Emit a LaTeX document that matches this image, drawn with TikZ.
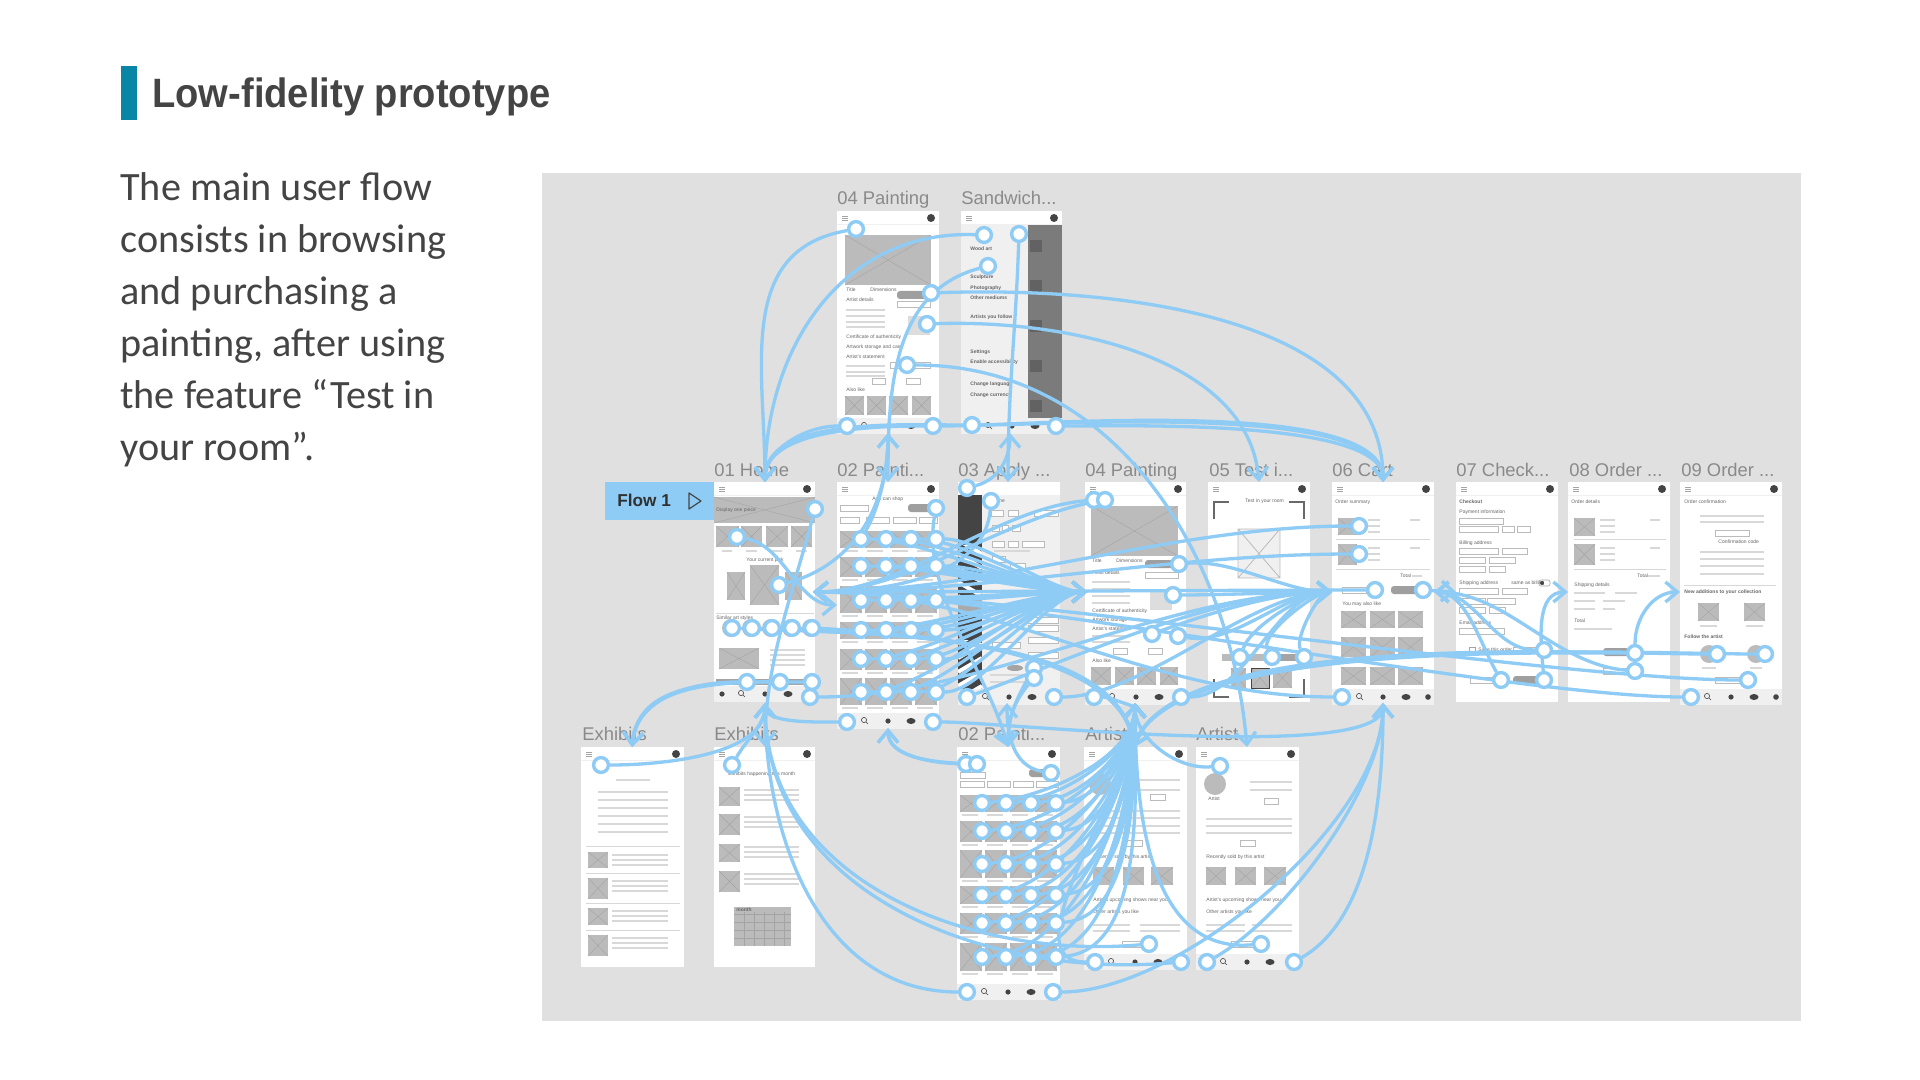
\documentclass[tikz,border=0pt]{standalone}
\usepackage{fontspec}
\setmainfont{Liberation Sans}
\newfontfamily\bodyfont{Carlito}
\newfontfamily\titlefont[FakeStretch=0.93]{Liberation Sans}
\usetikzlibrary{arrows.meta}
\pgfdeclarelayer{base}\pgfdeclarelayer{links}\pgfsetlayers{base,links,main}
\definecolor{linkc}{HTML}{8ECBF5}
\definecolor{panelc}{HTML}{E0E0E0}
\definecolor{tealc}{HTML}{0986A6}
\definecolor{inkc}{HTML}{444444}
\definecolor{tinyc}{HTML}{666666}
\definecolor{labelc}{HTML}{8A8A8A}
\definecolor{imgc}{HTML}{BBBBBB}
\definecolor{imgxc}{HTML}{A4A4A4}
\definecolor{wlinec}{HTML}{D8D8D8}
\definecolor{navc}{HTML}{F0F0F0}
\definecolor{darkc}{HTML}{444444}
\tikzset{
 hot/.style={circle,draw=linkc,fill=white,line width=1.7pt,minimum size=7.4pt,inner sep=0pt},
 link/.style={draw=linkc,line width=1.65pt,-{Straight Barb[length=6pt,width=10pt]}},
 flab/.style={anchor=base west,inner sep=0pt,text=labelc,font=\fontsize{9.2}{11}\selectfont},
 tinyt/.style={anchor=west,inner sep=0pt,text=tinyc,font=\fontsize{2.5}{3}\selectfont},
 wline/.style={draw=wlinec,line width=.55pt},
 wbox/.style={draw=imgc,line width=.35pt,fill=white},
 wpill/.style={fill=imgc!85!black},
}
\newcount\wtc
\newcommand\wimg[4]{\fill[imgc] (#1,#2) rectangle (#3,#4);\draw[imgxc,line width=.2pt] (#1,#2) -- (#3,#4) (#1,#4) -- (#3,#2);}
\newcommand\wl[3]{\draw[wline] (#1,#3) -- (#2,#3);}
\newcommand\wbx[3]{\draw[wbox] (#1,#3-3) rectangle (#2,#3+3);}
\newcommand\wgp[3]{\fill[wpill,rounded corners=1.5pt] (#1,#3-4) rectangle (#2,#3+4);}
\newcommand\wt[3]{\global\advance\wtc by 1 \node[tinyt] (wt\the\wtc) at (#1,#2) {#3};}
\newcommand\hot[3]{\node[hot] (#1) at (#2,#3) {};}
\newcommand\wframe[5]{%
 \fill[#5] (#1,#3) rectangle (#2,#4);
 \fill[white] (#1,#3) rectangle (#2,#3+13);
 \draw[navc,line width=.5pt] (#1,#3+13.5) -- (#2,#3+13.5);
 \draw[imgxc,line width=.25pt] (#1+5,#3+5) -- (#1+11,#3+5) (#1+5,#3+7) -- (#1+11,#3+7) (#1+5,#3+9) -- (#1+11,#3+9);
 \fill[darkc] (#2-8,#3+7) circle (4);}
\newcommand\wnav[3]{% x1, y centre, band x2
 \fill[navc] (#1,#2-8) rectangle (#3,#2+8);
 \fill[darkc] (#1+8,#2) circle (2.6);
 \draw[darkc,line width=.3pt] (#1+27,#2-1) circle (2.6) (#1+29,#2+1) -- (#1+31,#2+3);
 \fill[darkc] (#1+51,#2) circle (2.6);
 \fill[darkc] (#1+74,#2) ellipse (4.5 and 3);
 \fill[darkc] (#1+96,#2) circle (2.8);}
\newcommand\wrows[6]{% column x list fixed via #1.. y pairs
 \wimg{#1}{#5}{#1+22}{#6}\wimg{#2}{#5}{#2+22}{#6}\wimg{#3}{#5}{#3+22}{#6}\wimg{#4}{#5}{#4+22}{#6}
 \wl{#1+2}{#1+18}{#6+3}\wl{#2+2}{#2+18}{#6+3}\wl{#3+2}{#3+18}{#6+3}\wl{#4+2}{#4+18}{#6+3}}
\begin{document}
\begin{tikzpicture}[x=.5pt,y=-.5pt]
\useasboundingbox (0,0) rectangle (1920,1080);
\begin{pgfonlayer}{base}
\fill[white] (0,0) rectangle (1920,1080);
\fill[tealc] (121,66) rectangle (137,120);
\node[anchor=base west,inner sep=0pt,text=inkc,font=\titlefont\bfseries\fontsize{20.5}{24}\selectfont] (title) at (152,108) {Low-fidelity prototype};
\node[anchor=north west,inner sep=0pt,align=left,text=inkc,font=\bodyfont\fontsize{20.1}{26}\selectfont] (body) at (120,172) {The main user flow\\consists in browsing\\and purchasing a\\painting, after using\\the feature “Test in\\your room”.};
\fill[panelc] (542,173) rectangle (1801,1021);
% labels
\node[flab] (l1) at (837,205) {04 Painting};
\node[flab] (l2) at (961,205) {Sandwich...};
\node[flab] (l3) at (714,476) {01 Home};
\node[flab] (l4) at (837,476) {02 Painti...};
\node[flab] (l5) at (958,476) {03 Apply ...};
\node[flab] (l6) at (1085,476) {04 Painting};
\node[flab] (l7) at (1209,476) {05 Test i...};
\node[flab] (l8) at (1332,476) {06 Cart};
\node[flab] (l9) at (1456,476) {07 Check...};
\node[flab] (l10) at (1569,476) {08 Order ...};
\node[flab] (l11) at (1681,476) {09 Order ...};
\node[flab] (l12) at (582,740) {Exhibits};
\node[flab] (l13) at (714,740) {Exhibits};
\node[flab] (l14) at (958,740) {02 Painti...};
\node[flab] (l15) at (1085,740) {Artist};
\node[flab] (l16) at (1196,740) {Artist};
% flow box
\fill[linkc] (605,482) rectangle (714,520);
\node[anchor=base west,inner sep=0pt,text=inkc!70!black,font=\bfseries\fontsize{8.6}{10}\selectfont] (flow) at (617,506) {Flow 1};
\draw[inkc,line width=.6pt,line join=round] (689,493) -- (701,501) -- (689,509) -- cycle;
% === top painting
\wframe{837}{939}{211}{433}{white}
\wimg{845}{235}{931}{285}
\wgp{897}{930}{295}\wbx{897}{930}{304}
\wt{846}{290}{Title}\wt{870}{290}{Dimensions}\wt{846}{300}{Artist details}
\foreach \yy in {310,316,322,327}{\wl{846}{885}{\yy}}
\fill[imgc!50!white] (908,316) rectangle (930,335);
\wt{846}{337}{Certificate of authenticity}\wt{846}{347}{Artwork storage and care}\wt{846}{357}{Artist's statement}
\wl{846}{885}{366}\wl{846}{885}{372}\wl{846}{885}{376}
\wbx{872}{885}{381}\wbx{906}{920}{381}\wbx{890}{930}{365}
\wt{846}{390}{Also like}
\wimg{845}{396}{864}{415}\wimg{867}{396}{886}{415}\wimg{889}{396}{908}{415}\wimg{912}{396}{931}{415}
\wnav{837}{426}{939}
% === sandwich
\wframe{961}{1062}{211}{433}{navc}
\fill[imgxc!75!black] (1028,225) rectangle (1062,420);
\foreach \yy in {240,280,320,360,400}{\fill[imgxc!60!black] (1030,\yy) rectangle (1042,\yy+12);}
\foreach \yy/\tt in {249/Wood art,277/Sculpture,288/Photography,298/Other mediums,317/Artists you follow,352/Settings,362/Enable accessibility,384/Change language,395/Change currency}{\wt{970}{\yy}{\bfseries\tt}}
\wnav{961}{426}{1062}
% === home
\wframe{714}{815}{482}{702}{white}
\wimg{714}{497}{815}{523}
\wt{716}{510}{Display one piece}
\wimg{716}{526}{739}{547}\wimg{741}{526}{762}{547}\wimg{766}{526}{788}{547}\wimg{791}{526}{812}{547}
\wl{722}{732}{551}\wl{746}{757}{551}\wl{771}{782}{551}\wl{796}{807}{551}
\wt{746}{560}{Your current pick}
\wimg{750}{565}{779}{605}\wimg{727}{572}{745}{600}\wimg{785}{572}{802}{600}
\draw[wline,line width=.3pt] (716,613) -- (814,613);
\wt{716}{618}{Similar art styles}
\foreach \xx in {732,752,772,792,812}{\fill[imgc] (\xx-1,628) circle (9);}
\wimg{719}{648}{759}{669}
\foreach \yy in {650,655,660,665}{\wl{770}{805}{\yy}}
\fill[imgxc] (716,679) rectangle (812,685);
\wnav{714}{694}{815}
% === 02 painti
\wframe{837}{939}{482}{728}{white}
\wbx{840}{868}{508}\wgp{908}{936}{508}\wt{872}{499}{Art I can shop}
\wbx{840}{859}{520}\wbx{866}{889}{520}\wbx{893}{916}{520}\wbx{919}{937}{520}
\foreach \ya/\yb in {531/548,557/577,586/613,622/639,649/670,678/705}{\wrows{840}{865}{890}{915}{\ya}{\yb}}
\wnav{837}{721}{939}
% === 03 apply
\wframe{958}{1060}{482}{702}{navc}
\fill[white] (958,482) rectangle (1060,495);
\fill[darkc] (958,495) rectangle (982,690);
\begin{scope}\clip (958,545) rectangle (982,600);
\foreach \k in {0,14,28,42,56}{\draw[white,line width=2pt] (958,540+\k) -- (982,554+\k);}
\end{scope}
\begin{scope}\clip (958,640) rectangle (982,690);
\foreach \k in {0,14,28,42,56}{\draw[white,line width=2pt] (982,630+\k) -- (958,644+\k);}
\end{scope}
\fill[white,opacity=.55] (958,600) rectangle (982,612);
\wt{990}{501}{Frame}
\wbx{991}{1003}{513}\wbx{1008}{1018}{513}\wbx{1034}{1058}{513}
\wbx{992}{999}{528}\wbx{1002}{1008}{528}\wbx{1012}{1020}{528}
\wbx{992}{1004}{544}\wbx{1008}{1018}{544}\wbx{1022}{1044}{544}
\wl{994}{1030}{551}\wbx{992}{1005}{559}\wbx{1010}{1025}{566}
\wbx{1028}{1058}{620}\wbx{1028}{1058}{628}\wbx{1028}{1058}{640}\wbx{992}{1020}{645}\wbx{1028}{1058}{655}
\fill[imgxc] (1015,668) ellipse (8 and 3);
\wl{995}{1030}{605}\wl{995}{1030}{612}\wl{990}{1030}{675}\wl{990}{1025}{682}
\wnav{958}{697}{1060}
% === 04 painting
\wframe{1085}{1186}{482}{702}{white}
\wimg{1091}{506}{1178}{556}
\wt{1092}{561}{Title}\wt{1116}{561}{Dimensions}\wt{1092}{573}{Artist details}
\wgp{1145}{1178}{564}\wbx{1145}{1178}{575}
\foreach \yy in {582,589,596,603}{\wl{1092}{1130}{\yy}}
\fill[imgc!50!white] (1150,590) rectangle (1172,610);
\wt{1092}{611}{Certificate of authenticity}\wt{1092}{620}{Artwork storage}\wt{1092}{629}{Artist's statement}
\wl{1092}{1130}{636}\wl{1092}{1130}{642}\wbx{1113}{1127}{651}\wbx{1148}{1162}{651}
\fill[imgc] (1150,634) circle (7);
\wt{1092}{661}{Also like}
\wimg{1091}{667}{1111}{685}\wimg{1115}{667}{1134}{685}\wimg{1137}{667}{1156}{685}\wimg{1160}{667}{1178}{685}
\wnav{1085}{697}{1186}
% === 05 test
\wframe{1208}{1310}{482}{702}{white}
\fill[white] (1208,495) rectangle (1310,702);
\wt{1245}{501}{Test in your room}
\draw[darkc!80,line width=.8pt] (1214,519) -- (1214,502) -- (1229,502) (1289,502) -- (1304,502) -- (1304,519)
 (1214,679) -- (1214,697) -- (1229,697) (1289,697) -- (1304,697) -- (1304,679);
\fill[navc] (1238,529) rectangle (1280,578);\draw[imgc,line width=.4pt] (1238,529) rectangle (1280,578) (1238,529) -- (1280,578) (1238,578) -- (1280,529);
\fill[imgc] (1222,654) rectangle (1265,661);\fill[imgxc] (1280,654) rectangle (1300,661);
\wimg{1231}{668}{1246}{688}\wimg{1251}{668}{1269}{688}\draw[darkc,line width=.5pt] (1251,668) rectangle (1269,688);\wimg{1273}{668}{1292}{688}
% === 06 cart
\wframe{1332}{1434}{482}{702}{white}
\wt{1335}{502}{Order summary}
\wimg{1338}{518}{1357}{535}\wimg{1338}{544}{1357}{565}
\foreach \yy in {520,526,532,548,554,560}{\wl{1368}{1380}{\yy}}
\wl{1410}{1420}{520}\wl{1410}{1420}{548}
\draw[wline,line width=.3pt] (1336,539) -- (1430,539) (1336,569) -- (1430,569);
\wt{1400}{576}{Total}\wl{1412}{1422}{576}
\wbx{1342}{1366}{590}\wgp{1391}{1424}{590}
\wt{1342}{604}{You may also like}
\foreach \ya/\yb in {611/628,637/657,667/685}{\wimg{1341}{\ya}{1366}{\yb}\wimg{1370}{\ya}{1395}{\yb}\wimg{1398}{\ya}{1423}{\yb}}
\wnav{1332}{697}{1434}
% === 07 checkout
\wframe{1456}{1558}{482}{702}{white}
\wt{1459}{502}{\bfseries Checkout}\wt{1459}{512}{Payment information}
\wbx{1459}{1503}{521}\wbx{1459}{1498}{529}\wbx{1502}{1514}{529}\wbx{1517}{1530}{529}
\wt{1459}{543}{Billing address}
\wbx{1459}{1498}{551}\wbx{1502}{1527}{551}\wbx{1459}{1485}{560}\wbx{1489}{1515}{560}\wbx{1459}{1485}{569}\wbx{1489}{1505}{569}
\wt{1459}{583}{Shipping address}\wt{1511}{583}{same as billing}
\draw[imgxc,line width=.3pt,rounded corners=1pt] (1539,580) rectangle (1550,586);\fill[darkc] (1542,583) circle (2);
\wbx{1459}{1498}{591}\wbx{1502}{1527}{591}\wbx{1459}{1485}{601}\wbx{1487}{1515}{601}\wbx{1459}{1485}{610}\wbx{1489}{1505}{610}
\wt{1459}{623}{Email address}\wbx{1459}{1504}{631}
\draw[imgxc,line width=.3pt] (1469,647) rectangle (1475,653);\wt{1478}{650}{Save this order}
\wbx{1513}{1539}{650}\wbx{1470}{1495}{680}\wgp{1513}{1539}{680}
% === 08 order
\wframe{1568}{1670}{482}{702}{white}
\wt{1571}{502}{Order details}
\wimg{1574}{518}{1595}{536}\wimg{1574}{544}{1595}{565}
\foreach \yy in {520,526,532,548,554,560}{\wl{1600}{1615}{\yy}}
\wl{1650}{1660}{520}\wl{1650}{1660}{548}
\draw[wline,line width=.3pt] (1574,539) -- (1666,539) (1574,569) -- (1666,569);
\wt{1637}{576}{Total}\wl{1648}{1660}{576}
\wt{1574}{585}{Shipping details}
\wl{1574}{1605}{593}\wl{1615}{1637}{593}\wl{1574}{1595}{601}\wl{1603}{1625}{601}\wl{1574}{1595}{609}\wl{1603}{1615}{609}
\wt{1574}{621}{Total}\wl{1574}{1612}{629}
\wgp{1603}{1629}{652}\wbx{1603}{1629}{671}
% === 09 order
\wframe{1680}{1782}{482}{702}{white}
\wt{1684}{502}{Order confirmation}
\wl{1700}{1764}{516}\wl{1700}{1764}{522}
\wbx{1715}{1749}{533}\wt{1718}{542}{Confirmation code}
\foreach \yy in {552,559,566,574}{\wl{1700}{1764}{\yy}}
\draw[wline,line width=.3pt] (1684,585) -- (1776,585);
\wt{1684}{592}{\bfseries New additions to your collection}
\wimg{1698}{603}{1719}{621}\wimg{1744}{603}{1765}{621}
\wl{1700}{1717}{626}\wl{1746}{1763}{626}
\wt{1684}{637}{\bfseries Follow the artist}
\fill[imgc] (1709,654) circle (9);\fill[imgc] (1756,654) circle (9);
\wl{1702}{1716}{668}\wl{1750}{1762}{668}
\wbx{1715}{1742}{680}
\wnav{1680}{697}{1782}
% === exhibits 1
\wframe{581}{684}{747}{967}{white}
\wl{616}{650}{780}
\foreach \yy in {792,800,808,816,824,832}{\wl{598}{668}{\yy}}
\draw[wline,line width=.3pt] (586,846) -- (680,846) (586,873) -- (680,873) (586,903) -- (680,903) (586,930) -- (680,930);
\foreach \ya/\yb in {852/868,878/899,908/925,935/956}{\wimg{588}{\ya}{608}{\yb}\wl{612}{668}{\ya+3}\wl{612}{668}{\ya+8}\wl{612}{668}{\ya+13}}
% === exhibits 2
\wframe{714}{815}{747}{967}{white}
\wt{728}{774}{Exhibits happening this month}
\foreach \ya/\yb in {787/806,814/835,844/862,871/892}{\wimg{719}{\ya}{740}{\yb}\wl{744}{799}{\ya+3}\wl{744}{799}{\ya+8}\wl{744}{799}{\ya+13}}
\fill[imgc] (734,907) rectangle (791,946);
\foreach \xx in {744,754,764,774,784}{\draw[imgxc,line width=.2pt] (\xx,912) -- (\xx,946);}
\foreach \yy in {914,922,930,938}{\draw[imgxc,line width=.2pt] (734,\yy) -- (791,\yy);}
\wt{736}{910}{\bfseries month}
% === 02 bottom
\wframe{957}{1060}{747}{997}{white}
\wbx{960}{985}{775}\wgp{1029}{1056}{773}
\wbx{960}{984}{784}\wbx{987}{1010}{784}\wbx{1013}{1033}{784}\wbx{1036}{1058}{784}
\foreach \ya/\yb in {795/812,821/842,850/878,886/904,913/934,943/971}{\wrows{960}{985}{1010}{1035}{\ya}{\yb}}
\wnav{957}{992}{1060}
% === artist 1
\wframe{1084}{1187}{747}{967}{white}
\fill[imgc] (1100,784) circle (11);
\wbx{1150}{1165}{797}\wl{1138}{1180}{780}\wl{1138}{1180}{790}
\foreach \yy in {811,818,826,833}{\wl{1095}{1180}{\yy}}
\wbx{1126}{1142}{843}\wt{1093}{857}{Recently sold by this artist}
\wimg{1093}{867}{1114}{885}\wimg{1123}{867}{1144}{885}\wimg{1151}{867}{1173}{885}
\wt{1093}{900}{Artist's upcoming shows near you}\wt{1093}{912}{Other artists you like}
\wl{1093}{1130}{925}\wl{1140}{1180}{925}\wl{1093}{1130}{931}\wl{1140}{1180}{931}
\wbx{1122}{1145}{944}
\wnav{1084}{962}{1187}
% === artist 2
\wframe{1196}{1299}{747}{967}{white}
\fill[imgc] (1215,784) circle (11);
\wt{1208}{799}{Artist}\wbx{1264}{1278}{801}\wl{1250}{1292}{782}\wl{1250}{1292}{790}
\foreach \yy in {819,826,833}{\wl{1206}{1292}{\yy}}
\wbx{1240}{1255}{843}\wt{1206}{857}{Recently sold by this artist}
\wimg{1206}{867}{1226}{885}\wimg{1235}{867}{1256}{885}\wimg{1264}{867}{1286}{885}
\wt{1206}{900}{Artist's upcoming shows near you}\wt{1206}{912}{Other artists you like}
\wl{1206}{1245}{925}\wl{1252}{1292}{925}\wl{1206}{1245}{931}\wl{1252}{1292}{931}
\wbx{1231}{1254}{944}
\wnav{1196}{962}{1299}
\end{pgfonlayer}
% targets
\coordinate (tHomeT) at (765,482);
\coordinate (tHomeB) at (765,703);
\coordinate (tHomeR) at (813,592);
\coordinate (tPaiL) at (837,605);
\coordinate (tPaiT) at (888,482);
\coordinate (tPaiB) at (888,728);
\coordinate (tTopB) at (888,433);
\coordinate (tSandB) at (1010,433);
\coordinate (tAppT) at (1008,482);
\coordinate (tAppB) at (1007,703);
\coordinate (tFourL) at (1087,592);
\coordinate (tFourB) at (1135,703);
\coordinate (tTestT) at (1259,482);
\coordinate (tCartT) at (1383,482);
\coordinate (tCartL) at (1332,592);
\coordinate (tCartR) at (1434,592);
\coordinate (tCartB) at (1383,703);
\coordinate (tChkL) at (1456,592);
\coordinate (tOrdL) at (1568,592);
\coordinate (tConL) at (1680,592);
\coordinate (tExaT) at (632,747);
\coordinate (tExbT) at (765,747);
\coordinate (tBotT) at (1008,747);
\coordinate (tArtT) at (1134,747);
\coordinate (tArbT) at (1247,747);
% hotspots
\hot{a1}{856}{229}\hot{a2}{931}{293}\hot{a3}{927}{324}\hot{a4}{907}{365}\hot{a5}{847}{426}\hot{a6}{933}{426}
\hot{s1}{984}{235}\hot{s2}{1019}{234}\hot{s3}{988}{266}\hot{s4}{972}{425}\hot{s5}{1056}{426}
\hot{h1}{815}{509}\hot{h2}{737}{537}\hot{h3}{779}{585}
\hot{r1}{732}{628}\hot{r2}{752}{628}\hot{r3}{772}{628}\hot{r4}{792}{628}\hot{r5}{812}{628}
\hot{h4}{747}{682}\hot{h5}{780}{682}\hot{h6}{812}{682}\hot{h7}{810}{697}
\hot{p1}{936}{508}\hot{p2}{847}{722}\hot{p3}{933}{722}
\foreach \c/\xx in {1/861,2/886,3/911,4/936}{\foreach \r/\yy in {1/539,2/566,3/600,4/630,5/659,6/692}{\node[hot] (g\r\c) at (\xx,\yy) {};}}
\hot{c1}{967}{488}\hot{c2}{991}{501}\hot{c3}{967}{697}\hot{c4}{1054}{697}\hot{c5}{1034}{668}\hot{c6}{1034}{678}
\hot{d1}{1094}{500}\hot{d2}{1105}{500}\hot{d3}{1179}{564}\hot{d4}{1173}{595}\hot{d5}{1152}{634}\hot{d6}{1178}{636}\hot{d7}{1094}{697}\hot{d8}{1181}{697}
\hot{e1}{1240}{657}\hot{e2}{1272}{657}\hot{e3}{1304}{657}
\hot{f1}{1359}{526}\hot{f2}{1359}{554}\hot{f3}{1375}{590}\hot{f4}{1423}{590}\hot{f5}{1342}{697}
\hot{k1}{1544}{650}\hot{k2}{1501}{680}\hot{k3}{1544}{680}
\hot{o1}{1635}{653}\hot{o2}{1635}{671}
\hot{q1}{1717}{654}\hot{q2}{1765}{654}\hot{q3}{1748}{680}\hot{q4}{1691}{697}
\hot{x1}{601}{765}\hot{x2}{732}{765}
\hot{b1}{966}{764}\hot{b2}{977}{764}\hot{b3}{1051}{773}\hot{b4}{967}{992}\hot{b5}{1053}{992}
\foreach \c/\xx in {1/982,2/1006,3/1031,4/1056}{\foreach \r/\yy in {1/803,2/831,3/864,4/895,5/923,6/957}{\node[hot] (n\r\c) at (\xx,\yy) {};}}
\hot{m1}{1095}{962}\hot{m2}{1149}{944}\hot{m3}{1181}{962}
\hot{w1}{1220}{766}\hot{w2}{1207}{962}\hot{w3}{1261}{944}\hot{w4}{1294}{962}
% connectors
\begin{pgfonlayer}{links}
\draw[link] (a1) to[out=190,in=90,looseness=1.1] (tHomeT);
\draw[link] (s1) to[out=178,in=90,looseness=1.05] (tHomeT);
\draw[link] (a5) to[out=180,in=90,looseness=.9] (tHomeT);
\draw[link] (a6) to[out=180,in=90,looseness=.8] (tHomeT);
\draw[link] (s4) to[out=180,in=90,looseness=.8] (tHomeT);
\draw[link] (s3) to[out=195,in=90,looseness=1] (tPaiT);
\draw[link] (h3) to[out=15,in=-90,looseness=1] (tTopB);
\draw[link] (g11) to[out=60,in=-90,looseness=.8] (tTopB);
\draw[link] (s2) to[out=-92,in=90] (tAppT);
\draw[link] (c1) to[out=15,in=-90,looseness=1] (tSandB);
\draw[link] (a2) to[out=2,in=90,looseness=.9] (tCartT);
\draw[link] (a3) to[out=2,in=95,looseness=.9] (tTestT);
\draw[link] (a4) to[out=0,in=95,looseness=1] (tArbT);
\draw[link] (a6) to[out=0,in=90,looseness=.5] (tCartT);
\draw[link] (s4) to[out=0,in=90,looseness=.5] (tCartT);
\draw[link] (s5) to[out=0,in=90,looseness=.5] (tCartT);
\draw[link] (h1) to[out=-105,in=90,looseness=.9] (tExbT);
\draw[link] (h2) to[out=-10,in=180,looseness=.9] (tPaiL);
\foreach \n in {r1,r2,r3,r4,r5}{\draw[link] (\n) to[out=-3,in=98,looseness=.75] (tArtT);}
\foreach \n in {h4,h5,h6}{\draw[link] (\n) to[out=180,in=85,looseness=1] (tExaT);}
\draw[link] (h7) to[out=0,in=180,looseness=.8] (tCartL);
\foreach \r in {1,...,6}{\foreach \c in {1,...,4}{\draw[link] (g\r\c) to[out=0,in=180,looseness=.6] (tFourL);}}
\draw[link] (p1) to[out=-100,in=105,looseness=.8] (tBotT);
\draw[link] (p2) to[out=180,in=-90,looseness=.7] (tHomeB);
\draw[link] (p3) to[out=0,in=-90,looseness=.35] (tCartB);
\draw[link] (c2) to[out=-95,in=0,looseness=.9] (tHomeR);
\draw[link] (d1) to[out=185,in=0,looseness=.8] (tHomeR);
\draw[link] (d2) to[out=190,in=0,looseness=.8] (tHomeR);
\draw[link] (c3) to[out=20,in=180,looseness=.8] (tCartL);
\draw[link] (c4) to[out=0,in=180,looseness=.7] (tCartL);
\draw[link] (c5) to[out=-120,in=90] (tBotT);
\draw[link] (c6) to[out=-130,in=90] (tBotT);
\draw[link] (b3) to[out=170,in=-90,looseness=1] (tAppB);
\draw[link] (b1) to[out=178,in=-90,looseness=.9] (tPaiB);
\draw[link] (b2) to[out=178,in=-90,looseness=.9] (tPaiB);
\draw[link] (d3) to[out=5,in=180,looseness=.8] (tCartL);
\draw[link] (d4) to[out=0,in=180,looseness=.7] (tCartL);
\draw[link] (d5) to[out=20,in=180,looseness=.8] (tCartL);
\draw[link] (d6) to[out=-10,in=180,looseness=.8] (tCartL);
\draw[link] (d7) to[out=0,in=-88,looseness=.3] (tFourB);
\draw[link] (d8) to[out=0,in=180,looseness=.8] (tCartL);
\draw[link] (e1) to[out=70,in=180,looseness=.6] (tCartL);
\draw[link] (e2) to[out=120,in=180,looseness=.5] (tCartL);
\draw[link] (e3) to[out=115,in=180,looseness=.5] (tCartL);
\draw[link] (f1) to[out=180,in=0,looseness=.85] (tHomeR);
\draw[link] (f2) to[out=180,in=0,looseness=.85] (tHomeR);
\draw[link] (f3) to[out=180,in=0,looseness=.5] (tHomeR);
\draw[link] (f4) -- (tChkL);
\draw[link] (f5) to[out=180,in=0,looseness=.9] (tHomeR);
\draw[link] (k1) to[out=180,in=0,looseness=.9] (tCartR);
\draw[link] (k2) to[out=120,in=0,looseness=.8] (tCartR);
\draw[link] (k3) to[out=95,in=180,looseness=1] (tOrdL);
\draw[link] (o1) to[out=90,in=180,looseness=1] (tConL);
\draw[link] (o2) to[out=175,in=0,looseness=.9] (tCartR);
\draw[link] (q1) to[out=180,in=70,looseness=.55] (tArtT);
\draw[link] (q2) to[out=180,in=72,looseness=.5] (tArtT);
\draw[link] (o1) to[out=180,in=70,looseness=.55] (tArtT);
\draw[link] (q3) to[out=180,in=0,looseness=.5] (tHomeR);
\draw[link] (q4) to[out=180,in=0,looseness=.5] (tHomeR);
\draw[link] (x1) to[out=0,in=-90,looseness=.8] (tHomeB);
\draw[link] (x2) to[out=60,in=-90,looseness=.9] (tHomeB);
\draw[link] (b4) to[out=180,in=-90,looseness=1] (tHomeB);
\draw[link] (m2) to[out=185,in=-90,looseness=1] (tHomeB);
\draw[link] (m3) to[out=185,in=-90,looseness=1] (tHomeB);
\foreach \r in {1,...,6}{\foreach \c in {1,...,4}{\draw[link] (n\r\c) to[out=5,in=-90,looseness=.8] (tFourB);}}
\draw[link] (m1) to[out=180,in=-90,looseness=.8] (tFourB);
\draw[link] (w1) to[out=185,in=-90,looseness=.9] (tFourB);
\draw[link] (w3) to[out=185,in=-90,looseness=1] (tFourB);
\draw[link] (b5) to[out=0,in=-90,looseness=.7] (tCartB);
\draw[link] (w2) to[out=30,in=-90,looseness=.7] (tCartB);
\draw[link] (w4) to[out=30,in=-90,looseness=.8] (tCartB);
\end{pgfonlayer}
\end{tikzpicture}
\end{document}
